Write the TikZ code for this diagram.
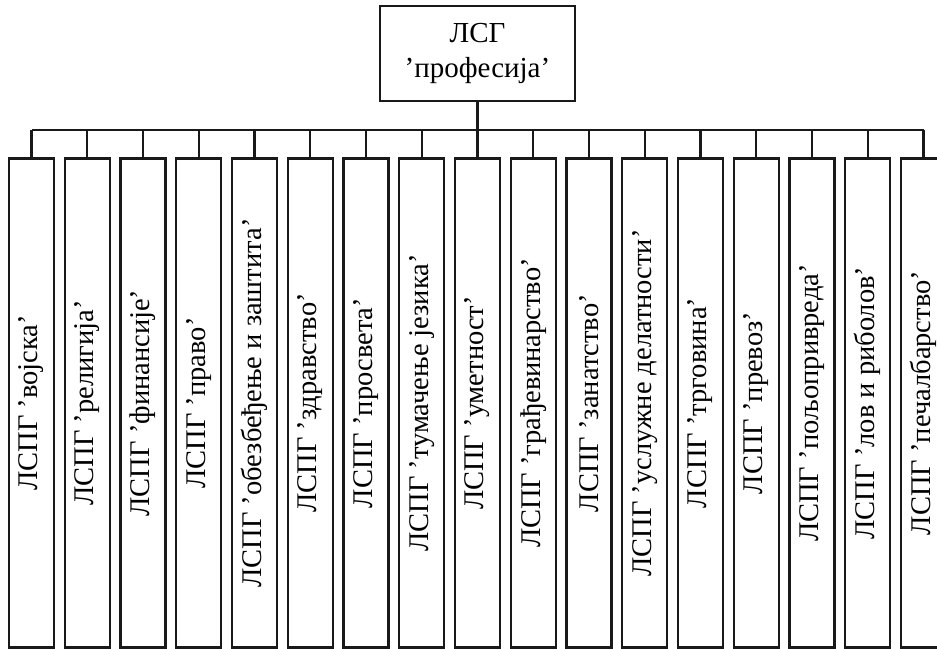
\documentclass[tikz,border=0pt]{standalone}
\usepackage{fontspec}
\setmainfont{Liberation Serif}
\begin{document}
\begin{tikzpicture}[x=1pt,y=-1pt,
  frame/.style={draw=black!90, line width=2.4pt},
  wire/.style={draw=black!90, line width=2.4pt},
  rootbox/.style={frame, minimum width=195pt, minimum height=95pt,
    inner sep=0pt, align=center, font=\fontsize{29}{35}\selectfont},
  leafbox/.style={frame, rotate=90, minimum width=489pt, minimum height=45pt,
    inner sep=0pt, font=\fontsize{28.5}{34}\selectfont}]
  \useasboundingbox (0,0) rectangle (937,648);
  \clip (0,0) rectangle (937,648);

  % root of the tree
  \node[rootbox] (root) at (477.5,53.5) {ЛСГ\\’професија’};

  % the seventeen subgroups, one column each
  \foreach \i/\t in {1/војска,2/религија,3/финансије,4/право,
      5/обезбеђење и заштита,6/здравство,7/просвета,8/тумачење језика,
      9/уметност,10/грађевинарство,11/занатство,12/услужне делатности,
      13/трговина,14/превоз,15/пољопривреда,16/лов и риболов,17/печалбарство}{
    \node[leafbox] (b\i) at ({31.5+55.75*(\i-1)},403) {ЛСПГ ’\t’};
  }

  % bus line joining the root to every column
  \coordinate (bus) at (0,130);
  \draw[wire] (root.south) -- (root.south |- bus);
  \draw[wire] (b1.east |- bus) -- (b17.east |- bus);
  \foreach \i in {1,...,17}{
    \draw[wire] (b\i.east) -- (b\i.east |- bus);
  }
\end{tikzpicture}
\end{document}
